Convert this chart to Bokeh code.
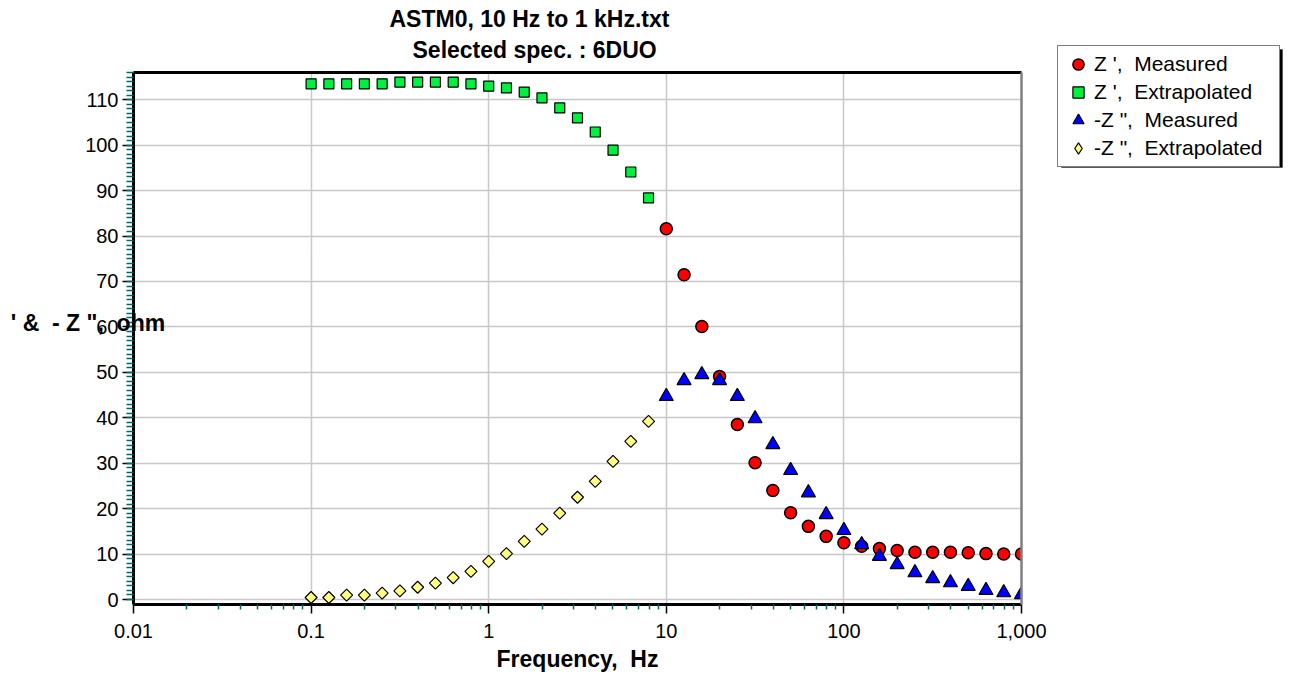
import math
from bokeh.plotting import figure
from bokeh.layouts import row
from bokeh.models import (FixedTicker, LogAxis, LinearAxis, Legend, LegendItem, Title,
                          BoxAnnotation, CustomJSTickFormatter)
from bokeh.embed import file_html
from bokeh.resources import INLINE

NB = "\u00a0"  # non-breaking space, so that double spaces survive in SVG text

# ---------------- data ----------------
freq_extrap = [0.1, 0.1259, 0.1585, 0.1995, 0.2512, 0.3162, 0.3981, 0.5012, 0.631, 0.7943,
               1.0, 1.259, 1.585, 1.995, 2.512, 3.162, 3.981, 5.012, 6.31, 7.943]
freq_meas = [10.0, 12.59, 15.85, 19.95, 25.12, 31.62, 39.81, 50.12, 63.1, 79.43,
             100.0, 125.9, 158.5, 199.5, 251.2, 316.2, 398.1, 501.2, 631.0, 794.3, 1000.0]

zre_meas = [81.6, 71.5, 60.1, 49.1, 38.5, 30.1, 24.0, 19.1, 16.1, 13.9,
            12.5, 11.7, 11.2, 10.8, 10.4, 10.4, 10.4, 10.3, 10.1, 10.0, 10.0]
zre_extrap = [113.5, 113.5, 113.5, 113.5, 113.5, 113.9, 113.9, 113.9, 113.9, 113.5,
              113.0, 112.6, 111.7, 110.4, 108.2, 106.0, 102.9, 98.9, 94.1, 88.4]
zim_meas = [44.7, 48.2, 49.5, 48.2, 44.7, 39.8, 34.1, 28.4, 23.5, 18.7,
            15.2, 12.1, 9.5, 7.7, 5.9, 4.6, 3.7, 2.9, 2.0, 1.5, 1.1]
zim_extrap = [0.44, 0.44, 0.95, 0.95, 1.4, 1.9, 2.7, 3.6, 4.8, 6.2,
              8.4, 10.1, 12.8, 15.5, 19.0, 22.5, 26.0, 30.4, 34.8, 39.2]

x_major = [0.01, 0.1, 1, 10, 100, 1000]
y_major = list(range(0, 111, 10))

title_1 = "ASTM0, 10 Hz to 1 kHz.txt"
title_2 = "Selected spec. : 6DUO"
x_label = "Frequency," + NB + " Hz"
y_label = "' &" + NB + " - Z \"," + NB + " ohm\n" + NB
legend_labels = ["Z ',"  + NB + " Measured", "Z '," + NB + " Extrapolated",
                 "-Z \"," + NB + " Measured", "-Z \"," + NB + " Extrapolated"]

# ---------------- layout ----------------
H = 678
W_MAIN, W_LEG = 1050, 239
FL, FT, FR, FB = 133, 72, 1021, 604
X0, X1 = 0.01, 1000.0
Y0, Y1 = -1.1, 116.0
FONT = "Liberation Sans"

p = figure(width=W_MAIN, height=H, x_axis_type="log", x_range=(X0, X1), y_range=(Y0, Y1),
           output_backend="svg", toolbar_location=None, title=None,
           min_border_left=FL, min_border_top=FT, min_border_right=W_MAIN - FR,
           min_border_bottom=H - FB)
p.outline_line_color = None
p.frame_align = False

# x axis
xminor = [m * 10 ** k for k in range(-2, 3) for m in range(2, 10)]
xt = FixedTicker(ticks=x_major, minor_ticks=xminor)
xa = p.xaxis[0]
xa.ticker = xt
xa.formatter = CustomJSTickFormatter(code="return tick >= 1000 ? tick.toLocaleString('en-US') : tick.toString();")
xa.axis_line_width = 3
xa.axis_line_color = "black"
xa.major_tick_line_color = "black"
xa.major_tick_line_width = 1.5
xa.major_tick_out = 9
xa.major_tick_in = 0
xa.minor_tick_line_color = "#006666"
xa.minor_tick_line_width = 1.5
xa.minor_tick_out = 5
xa.minor_tick_in = 0
xa.major_label_text_font = FONT
xa.major_label_text_font_size = "20px"
xa.major_label_text_color = "black"
xa.major_label_standoff = 10
xa.axis_label = x_label
xa.axis_label_text_font = FONT
xa.axis_label_text_font_style = "bold"
xa.axis_label_text_font_size = "23px"
xa.axis_label_text_color = "black"
xa.axis_label_standoff = 5

# y axis
ya = p.yaxis[0]
ya.ticker = FixedTicker(ticks=y_major, minor_ticks=list(range(0, 117)))
ya.axis_line_width = 3
ya.axis_line_color = "black"
ya.major_tick_line_color = "black"
ya.major_tick_line_width = 1.5
ya.major_tick_out = 11
ya.major_tick_in = 0
ya.minor_tick_line_color = "#006666"
ya.minor_tick_line_width = 1.5
ya.minor_tick_out = 7
ya.minor_tick_in = 0
ya.major_label_text_font = FONT
ya.major_label_text_font_size = "20px"
ya.major_label_text_color = "black"
ya.major_label_standoff = 4
ya.axis_label = y_label
ya.axis_label_orientation = "horizontal"
ya.axis_label_text_font = FONT
ya.axis_label_text_font_style = "bold"
ya.axis_label_text_font_size = "23px"
ya.axis_label_text_color = "black"
ya.axis_label_standoff = -83

# top and right frame lines
top_ax = LogAxis(ticker=FixedTicker(ticks=[], minor_ticks=[]), axis_line_width=3,
                 axis_line_color="black", major_label_text_font_size="0px",
                 major_tick_out=0, minor_tick_out=0, major_label_standoff=0)
p.add_layout(top_ax, "above")
right_ax = LinearAxis(ticker=FixedTicker(ticks=[], minor_ticks=[]), axis_line_width=2.5,
                      axis_line_color="#7f7f7f", major_label_text_font_size="0px",
                      major_tick_out=0, minor_tick_out=0, major_label_standoff=0)
p.add_layout(right_ax, "right")

# titles (first added sits closest to the frame)
p.add_layout(Title(text=title_2, align="left", offset=279, standoff=20, text_font=FONT,
                   text_font_style="bold", text_font_size="23px", text_color="black"), "above")
p.add_layout(Title(text=title_1, align="left", offset=256, standoff=-14, text_font=FONT,
                   text_font_style="bold", text_font_size="23px", text_color="black"), "above")

# grid
p.xgrid.ticker = xt
p.ygrid.ticker = FixedTicker(ticks=y_major)
for g in (p.xgrid, p.ygrid):
    g.grid_line_color = "#c8c8c8"
    g.grid_line_width = 1.5

# data
styles = {
    "ze": dict(marker="square", size=10, fill_color="#00f040", line_color="black", line_width=1.2),
    "ye": dict(marker="square", angle=math.pi / 4, size=8.5, fill_color="#ffff80",
               line_color="black", line_width=1.2),
    "zm": dict(marker="circle", size=12, fill_color="#ff0000", line_color="black", line_width=1.5),
    "ym": dict(marker="triangle", size=14, fill_color="#0000ff", line_color="black", line_width=1.2),
}
p.scatter(freq_extrap, zre_extrap, **styles["ze"])
p.scatter(freq_extrap, zim_extrap, **styles["ye"])
p.scatter(freq_meas, zre_meas, **styles["zm"])
p.scatter(freq_meas, zim_meas, **styles["ym"])

# ---------------- legend panel ----------------
LEG_TOP = 38
q = figure(width=W_LEG, height=H, x_range=(0, W_LEG), y_range=(0, H - LEG_TOP),
           output_backend="svg", toolbar_location=None, title=None,
           x_axis_location=None, y_axis_location=None,
           min_border_left=0, min_border_right=0, min_border_top=LEG_TOP, min_border_bottom=0)
q.outline_line_color = None
q.xgrid.visible = False
q.ygrid.visible = False
q.frame_align = False

# legend keys: one point each, placed outside this panel's visible range
key_styles = dict(styles)
key_styles["ye"] = dict(marker="diamond", size=12, fill_color="#ffff80",
                        line_color="black", line_width=1.2)
keys = {k: q.scatter([-1000], [-1000], **s) for k, s in key_styles.items()}

# shadow (panel px -> data of this panel: x = px, y = H - py)
q.add_layout(BoxAnnotation(left=11, right=232, top=H - 49, bottom=H - 167,
                           fill_color="black", fill_alpha=1, line_color="black",
                           level="underlay"))

legend = Legend(items=[LegendItem(label=legend_labels[0], renderers=[keys["zm"]]),
                       LegendItem(label=legend_labels[1], renderers=[keys["ze"]]),
                       LegendItem(label=legend_labels[2], renderers=[keys["ym"]]),
                       LegendItem(label=legend_labels[3], renderers=[keys["ye"]])],
                location="top_left", margin=7, border_line_color="black", border_line_width=1.5,
                background_fill_color="white", background_fill_alpha=1,
                padding=4, spacing=0, glyph_height=28, glyph_width=32,
                label_height=28, label_width=181, label_standoff=0, label_text_font=FONT,
                label_text_font_size="21px", label_text_color="black")
q.add_layout(legend)

layout = row(p, q, spacing=0)
open("out.html", "w").write(file_html(layout, INLINE))
